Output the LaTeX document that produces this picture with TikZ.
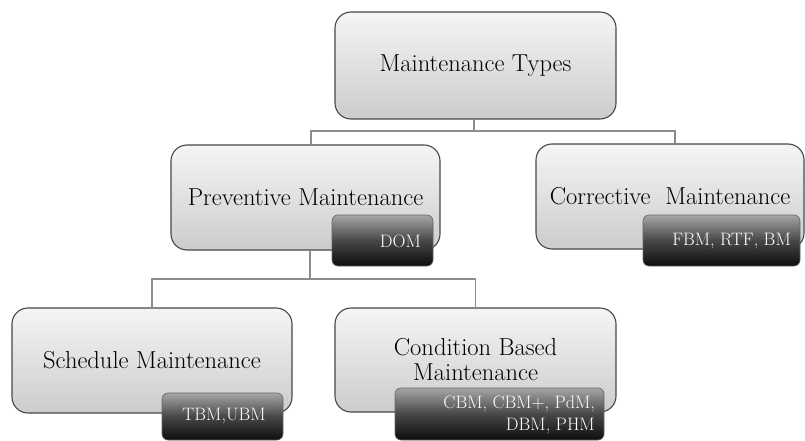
\documentclass[tikz,border=0pt]{standalone}
\usepackage{times}
\begin{document}
\begin{tikzpicture}[x=1pt,y=-1pt,
  mbox/.style={draw=black!72,line width=1.1pt,rounded corners=16pt,
    top color=black!4,bottom color=black!20,inner sep=0pt,align=center},
  badge/.style={draw=black!60,line width=0.6pt,rounded corners=6pt,
    top color=black!35,bottom color=black!95,middle color=black!72,
    inner sep=0pt},
  btext/.style={inner sep=0pt,text=white},
  conn/.style={draw=black!45,line width=1.2pt}]
\useasboundingbox (0,0) rectangle (805,441);
% boxes
\node[mbox,minimum width=281pt,minimum height=107pt] (top) at (475.5,65.5) {\raisebox{-8pt}{\rmfamily\fontsize{24.5}{27}\selectfont Maintenance Types}};
\node[mbox,minimum width=269pt,minimum height=105pt] (prev) at (305.5,197.5) {\raisebox{-3pt}{\rmfamily\fontsize{24.5}{27}\selectfont Preventive Maintenance}};
\node[mbox,minimum width=268pt,minimum height=105pt] (corr) at (670,196.5) {\raisebox{-3pt}{\rmfamily\fontsize{24.5}{27}\selectfont Corrective~ Maintenance}};
\node[mbox,minimum width=280pt,minimum height=105pt] (sched) at (152,360.5) {\rmfamily\fontsize{24.5}{27}\selectfont Schedule Maintenance};
\node[mbox,minimum width=281pt,minimum height=104pt] (cond) at (475.5,360) {\raisebox{2pt}{\parbox{250pt}{\centering\rmfamily\fontsize{24.5}{27}\selectfont Condition Based\\[-2pt]Maintenance}}};
% connectors
\coordinate (j1) at (474,131);
\coordinate (j2) at (310,279);
\draw[conn] (top.south -| j1) -- (j1);
\draw[conn] (j1) -| (prev.north -| 311,0);
\draw[conn] (j1) -| (corr.north -| 675,0);
\draw[conn] (prev.south -| j2) -- (j2);
\draw[conn] (j2) -| (sched.north);
\draw[conn] (j2) -| (cond.north);
% badges
\node[badge,minimum width=101pt,minimum height=51pt] (dom) at (382.5,240.5) {};
\node[btext,anchor=east] (domt) at (421,241.5) {\rmfamily\bfseries\fontsize{18}{22}\selectfont DOM};
\node[badge,minimum width=157pt,minimum height=51pt] (fbm) at (721.5,240.5) {};
\node[btext,anchor=east] (fbmt) at (791,241.5) {\rmfamily\bfseries\fontsize{18}{22}\selectfont FBM, RTF, BM};
\node[badge,minimum width=121pt,minimum height=47pt] (tbm) at (222.5,416.5) {};
\node[btext] (tbmt) at (224,416) {\rmfamily\bfseries\fontsize{18}{22}\selectfont TBM,UBM};
\node[badge,minimum width=209pt,minimum height=52pt] (cbm) at (499.5,414) {};
\node[btext,anchor=east] (cbmt) at (595,414.5) {\parbox{200pt}{\raggedleft\rmfamily\bfseries\fontsize{18}{22}\selectfont CBM, CBM+, PdM,\\DBM, PHM}};
\end{tikzpicture}
\end{document}
